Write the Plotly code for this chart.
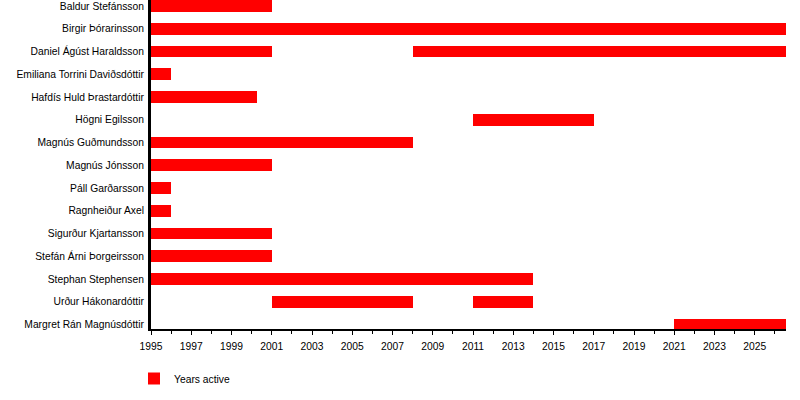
import plotly.graph_objects as go

# Members (top to bottom)
members = [
    "Baldur Stefánsson",
    "Birgir Þórarinsson",
    "Daniel Ágúst Haraldsson",
    "Emiliana Torrini Daviðsdóttir",
    "Hafdís Huld Þrastardóttir",
    "Högni Egilsson",
    "Magnús Guðmundsson",
    "Magnús Jónsson",
    "Páll Garðarsson",
    "Ragnheiður Axel",
    "Sigurður Kjartansson",
    "Stefán Árni Þorgeirsson",
    "Stephan Stephensen",
    "Urður Hákonardóttir",
    "Margret Rán Magnúsdóttir",
]

NOW = 2026.55  # timeline end ("present")

# Active periods (one entry per segment)
seg_member = [
    "Baldur Stefánsson",
    "Birgir Þórarinsson",
    "Daniel Ágúst Haraldsson",
    "Daniel Ágúst Haraldsson",
    "Emiliana Torrini Daviðsdóttir",
    "Hafdís Huld Þrastardóttir",
    "Högni Egilsson",
    "Magnús Guðmundsson",
    "Magnús Jónsson",
    "Páll Garðarsson",
    "Ragnheiður Axel",
    "Sigurður Kjartansson",
    "Stefán Árni Þorgeirsson",
    "Stephan Stephensen",
    "Urður Hákonardóttir",
    "Urður Hákonardóttir",
    "Margret Rán Magnúsdóttir",
]
seg_start = [1995, 1995, 1995, 2008, 1995, 1995, 2011, 1995, 1995, 1995, 1995, 1995, 1995, 1995, 2001, 2011, 2021]
seg_end = [2001, NOW, 2001, NOW, 1996, 2000.25, 2017, 2008, 2001, 1996, 1996, 2001, 2001, 2014, 2008, 2014, NOW]

tick_years = list(range(1995, 2026, 2))

FONT = "Liberation Sans, Arial, sans-serif"

fig = go.Figure()
fig.add_trace(go.Bar(
    y=[members.index(m) for m in seg_member],
    x=[e - s for s, e in zip(seg_start, seg_end)],
    base=seg_start,
    orientation="h",
    width=0.514,
    marker=dict(color="#ff0000", line=dict(width=0)),
    name="Years active",
    showlegend=True,
))

fig.update_layout(
    width=800, height=400,
    margin=dict(l=151, r=14, t=0, b=71),
    paper_bgcolor="white", plot_bgcolor="white",
    font=dict(family=FONT, size=10.3, color="black"),
    bargap=0,
    showlegend=True,
    legend=dict(
        orientation="h",
        xref="container", yref="container",
        x=134 / 800, y=1 - 364 / 400,
        xanchor="left", yanchor="top",
        font=dict(family=FONT, size=10.3, color="black"),
        bgcolor="rgba(0,0,0,0)",
    ),
    xaxis=dict(
        range=[1995, NOW],
        tickmode="array",
        tickvals=tick_years,
        ticktext=[str(y) for y in tick_years],
        ticks="outside", ticklen=4, tickwidth=1, tickcolor="black",
        ticklabelstandoff=3,
        minor=dict(tickmode="linear", tick0=1995, dtick=1, ticks="outside",
                   ticklen=3, tickwidth=1, tickcolor="black", showgrid=False),
        showline=True, linecolor="black", linewidth=2,
        showgrid=False, zeroline=False,
        automargin=False,
        tickfont=dict(family=FONT, size=10.3, color="black"),
    ),
    yaxis=dict(
        range=[(329 - 6) / 22.75, -6 / 22.75],
        tickmode="array",
        tickvals=list(range(len(members))),
        ticktext=members,
        ticks="", ticklen=0,
        ticklabelstandoff=2,
        showline=True, linecolor="black", linewidth=3,
        showgrid=False, zeroline=False,
        automargin=False,
        tickfont=dict(family=FONT, size=10.3, color="black"),
    ),
)

fig.write_html(
    "out.html",
    config={"displayModeBar": False},
    post_script="document.body.style.margin='0';document.body.style.overflow='hidden';",
)
